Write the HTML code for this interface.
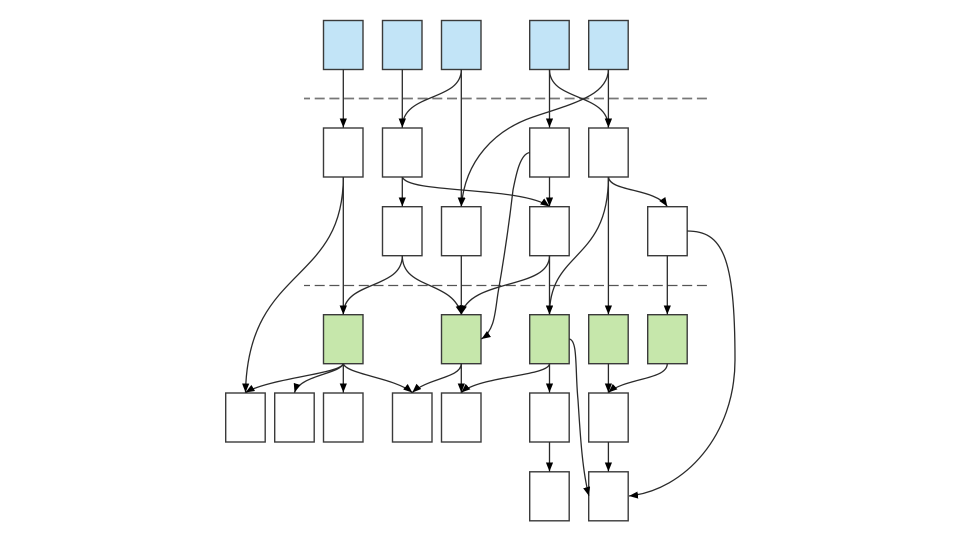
<!DOCTYPE html>
<html>
<head>
<meta charset="utf-8">
<style>
html,body{margin:0;padding:0;background:#fff;}
svg{display:block;filter:blur(0.3px);}
</style>
</head>
<body>
<svg width="960" height="540" viewBox="0 0 960 540" xmlns="http://www.w3.org/2000/svg">
<defs>
<marker id="a" markerUnits="userSpaceOnUse" markerWidth="12" markerHeight="10" refX="9" refY="3.6" orient="auto">
<path d="M0,0 L9,3.6 L0,7.2 Z" fill="#000"/>
</marker>
</defs>
<g fill="none" stroke-dasharray="10,4.7" stroke-dashoffset="4">
<path d="M304,98.5H707" stroke="#777" stroke-width="1.7"/>
<path d="M304,285.5H707" stroke="#555" stroke-width="1.3"/>
</g>
<g fill="#fff" stroke="#3a3a3a" stroke-width="1.4">
<g fill="#c2e4f7">
<rect x="323.5" y="20.5" width="39.5" height="49"/>
<rect x="382.5" y="20.5" width="39.5" height="49"/>
<rect x="441.5" y="20.5" width="39.5" height="49"/>
<rect x="529.7" y="20.5" width="39.5" height="49"/>
<rect x="588.7" y="20.5" width="39.5" height="49"/>
</g>
<rect x="323.5" y="128" width="39.5" height="49"/>
<rect x="382.5" y="128" width="39.5" height="49"/>
<rect x="529.7" y="128" width="39.5" height="49"/>
<rect x="588.7" y="128" width="39.5" height="49"/>
<rect x="382.5" y="206.7" width="39.5" height="49"/>
<rect x="441.5" y="206.7" width="39.5" height="49"/>
<rect x="529.7" y="206.7" width="39.5" height="49"/>
<rect x="647.7" y="206.7" width="39.5" height="49"/>
<g fill="#c6e7ab">
<rect x="323.5" y="314.7" width="39.5" height="49"/>
<rect x="441.5" y="314.7" width="39.5" height="49"/>
<rect x="529.7" y="314.7" width="39.5" height="49"/>
<rect x="588.7" y="314.7" width="39.5" height="49"/>
<rect x="647.7" y="314.7" width="39.5" height="49"/>
</g>
<rect x="225.7" y="393" width="39.5" height="49"/>
<rect x="274.7" y="393" width="39.5" height="49"/>
<rect x="323.5" y="393" width="39.5" height="49"/>
<rect x="392.5" y="393" width="39.5" height="49"/>
<rect x="441.5" y="393" width="39.5" height="49"/>
<rect x="529.7" y="393" width="39.5" height="49"/>
<rect x="588.7" y="393" width="39.5" height="49"/>
<rect x="529.7" y="471.8" width="39.5" height="49"/>
<rect x="588.7" y="471.8" width="39.5" height="49"/>
</g>
<g fill="none" stroke="#2a2a2a" stroke-width="1.3">
<path d="M343.3,69.5V127.5" marker-end="url(#a)"/>
<path d="M402.3,69.5V127.5" marker-end="url(#a)"/>
<path d="M461.3,69.5C461.3,102 402.3,92 402.3,127.5" marker-end="url(#a)"/>
<path d="M461.3,69.5V206.5" marker-end="url(#a)"/>
<path d="M549.5,69.5V127.5" marker-end="url(#a)"/>
<path d="M549.5,69.5C549.5,102 608.4,92 608.4,127.5" marker-end="url(#a)"/>
<path d="M608.4,69.5V127.5" marker-end="url(#a)"/>
<path d="M608.4,69.5C608,95 575,103 533,117C495,130 465,160 461.3,206.5" marker-end="url(#a)"/>
<path d="M343.3,177V314.5" marker-end="url(#a)"/>
<path d="M343.3,177C343.3,285 248,265 245.5,392.5" marker-end="url(#a)"/>
<path d="M402.3,177V206.5" marker-end="url(#a)"/>
<path d="M402.3,177C408,194 520,186 549.5,206.5" marker-end="url(#a)"/>
<path d="M549.5,177V206.5" marker-end="url(#a)"/>
<path d="M529.7,152.5C520,154 516,175 513,190C509,225 502,270 498,293C495,312 495,330 481.5,339" marker-end="url(#a)"/>
<path d="M608.4,177C610,192 655,188 667.3,206.5" marker-end="url(#a)"/>
<path d="M608.4,177C608.4,262 549.5,250 549.5,314.5" marker-end="url(#a)"/>
<path d="M608.4,177V314.5" marker-end="url(#a)"/>
<path d="M549.5,255.7V314.5" marker-end="url(#a)"/>
<path d="M549.5,255.7C549.5,290 470,278 461.3,314.5" marker-end="url(#a)"/>
<path d="M402.3,255.7C402.3,290 343.3,280 343.3,314.5" marker-end="url(#a)"/>
<path d="M402.3,255.7C402.3,290 453,280 461.3,314.5" marker-end="url(#a)"/>
<path d="M461.3,255.7V314.5" marker-end="url(#a)"/>
<path d="M667.3,255.7V314.5" marker-end="url(#a)"/>
<path d="M687.2,231C722,231 735,255 735,360C735,435 685,490 629,496" marker-end="url(#a)"/>
<path d="M343.3,363.7C340,374 270,378 245.5,392.5" marker-end="url(#a)"/>
<path d="M343.3,363.7C340,374 300,375 294.5,392.5" marker-end="url(#a)"/>
<path d="M343.3,363.7V392.5" marker-end="url(#a)"/>
<path d="M343.3,363.7C346,374 395,378 412.3,392.5" marker-end="url(#a)"/>
<path d="M461.3,363.7C461,378 428,378 412.3,392.5" marker-end="url(#a)"/>
<path d="M461.3,363.7V392.5" marker-end="url(#a)"/>
<path d="M549.5,363.7C549,376 480,376 461.3,392.5" marker-end="url(#a)"/>
<path d="M549.5,363.7V392.5" marker-end="url(#a)"/>
<path d="M608.4,363.7V392.5" marker-end="url(#a)"/>
<path d="M667.3,363.7C667,380 625,378 608.4,392.5" marker-end="url(#a)"/>
<path d="M569.2,339C578,340 575,370 578,400C580,430 582,470 589,496" marker-end="url(#a)"/>
<path d="M549.5,442V471.5" marker-end="url(#a)"/>
<path d="M608.4,442V471.5" marker-end="url(#a)"/>
</g>
</svg>
</body>
</html>
